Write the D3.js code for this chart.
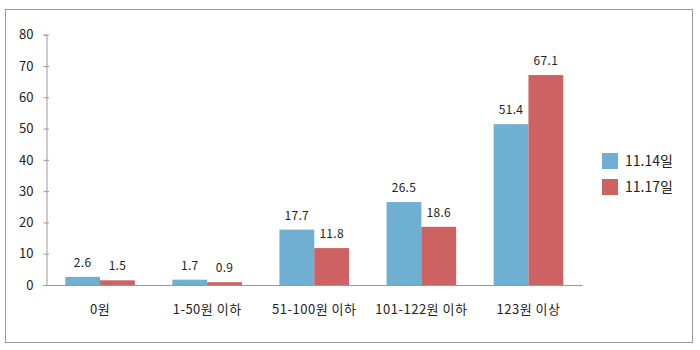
<!DOCTYPE html>
<html>
<head>
<meta charset="utf-8">
<script src="https://cdn.jsdelivr.net/npm/d3@7"></script>
<style>
  html, body { margin: 0; padding: 0; background: #fff; }
  svg text { font-family: "Noto Sans CJK KR", "Noto Sans", sans-serif; fill: #222; }
</style>
</head>
<body>
<svg id="chart" width="700" height="350"></svg>
<script>
// Price bands and share (%) on two survey dates
const categories = ["0원", "1-50원 이하", "51-100원 이하", "101-122원 이하", "123원 이상"];
const seriesNames = ["11.14일", "11.17일"];
const nov14 = [2.6, 1.7, 17.7, 26.5, 51.4];
const nov17 = [1.5, 0.9, 11.8, 18.6, 67.1];
const yTicks = [0, 10, 20, 30, 40, 50, 60, 70, 80];
const colors = ["#6fb0d2", "#cc6262"];

const svg = d3.select("#chart");

// outer frame
svg.append("rect")
  .attr("x", 5.5).attr("y", 9.5)
  .attr("width", 687).attr("height", 333)
  .attr("fill", "none").attr("stroke", "#9a9a9a").attr("stroke-width", 1);

const plotLeft = 46.5, plotRight = 582, plotTop = 34.7, plotBottom = 285;

const x = d3.scaleBand().domain(categories).range([plotLeft, plotRight]).paddingInner(0.35).paddingOuter(0.175);
const xs = d3.scaleBand().domain(seriesNames).range([0, x.bandwidth()]);
const y = d3.scaleLinear().domain([0, 80]).range([plotBottom, plotTop]);

const rows = categories.map((c, i) => ({ cat: c, vals: [nov14[i], nov17[i]] }));

const groups = svg.append("g").selectAll("g").data(rows).join("g")
  .attr("transform", d => `translate(${x(d.cat)},0)`);

groups.selectAll("rect").data(d => d.vals.map((v, k) => ({ v, k })))
  .join("rect")
  .attr("x", d => xs(seriesNames[d.k]))
  .attr("y", d => y(d.v))
  .attr("width", xs.bandwidth())
  .attr("height", d => y(0) - y(d.v))
  .attr("fill", d => colors[d.k]);

groups.selectAll("text.val").data(d => d.vals.map((v, k) => ({ v, k })))
  .join("text")
  .attr("class", "val")
  .attr("x", d => xs(seriesNames[d.k]) + xs.bandwidth() / 2)
  .attr("y", d => y(d.v) - 10)
  .attr("text-anchor", "middle")
  .attr("font-size", 12)
  .attr("letter-spacing", 0.3)
  .text(d => d.v.toFixed(1));

// y axis
const yAxis = svg.append("g")
  .attr("transform", `translate(${plotLeft},0)`)
  .call(d3.axisLeft(y).tickValues(yTicks).tickSize(3).tickPadding(10));
yAxis.select(".domain").attr("stroke", "#9a9a9a");
yAxis.selectAll(".tick line").attr("stroke", "#9a9a9a").attr("x2", 2.5).attr("x1", -3);
yAxis.selectAll(".tick text").attr("font-size", 13).attr("fill", "#222")
  .style("font-family", '"Noto Sans CJK KR", sans-serif');

// x axis baseline and category labels
const xAxis = svg.append("g")
  .attr("transform", `translate(0,${plotBottom})`)
  .call(d3.axisBottom(x).tickSize(0).tickPadding(20).tickSizeOuter(0));
xAxis.select(".domain").attr("stroke", "#9a9a9a");
xAxis.selectAll(".tick text").attr("font-size", 13).attr("fill", "#222")
  .attr("letter-spacing", 0.5)
  .style("font-family", '"Noto Sans CJK KR", sans-serif');

// legend
const legend = svg.append("g").selectAll("g").data(seriesNames).join("g")
  .attr("transform", (d, i) => `translate(602,${153 + i * 26})`);
legend.append("rect").attr("width", 16).attr("height", 16).attr("fill", (d, i) => colors[i]);
legend.append("text").attr("x", 23).attr("y", 8).attr("dy", "0.35em")
  .attr("font-size", 14).text(d => d);
</script>
</body>
</html>
